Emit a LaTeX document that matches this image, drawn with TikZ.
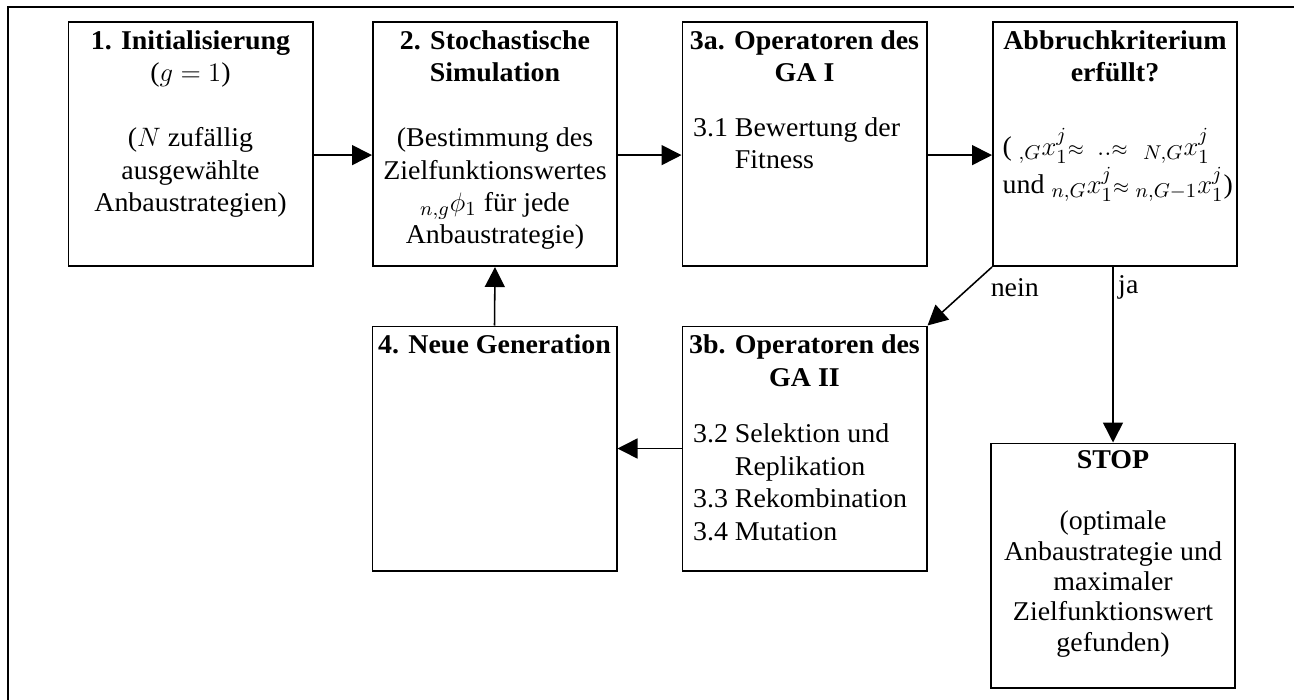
\documentclass[tikz,border=0pt]{standalone}
\usepackage{amsmath}
\usepackage{fontspec}
\setmainfont{Liberation Serif}[FakeStretch=1.03]
\usetikzlibrary{arrows.meta, positioning}

\begin{document}
\begin{tikzpicture}[x=0.45pt, y=-0.45pt, font=\fontsize{12.2}{14.6}\selectfont,
    box/.style={rectangle, draw, line width=0.7pt, minimum width=110pt, minimum height=110pt, inner sep=0pt},
    title/.style={anchor=north, align=center, inner sep=0pt},
    list/.style={anchor=north west, align=left, inner sep=0pt},
    arr/.style={-{Triangle[length=9pt, width=9pt]}, line width=0.7pt}]
    \useasboundingbox (0,0) rectangle (1294,700);
    % Outer frame
    \draw[line width=0.7pt] (1294,7) -- (8,7) -- (8,700);

    % Steps of the algorithm
    \node[box] (init) at (190.5,144) {};
    \node[box] (sim) at (495,144) {};
    \node[box] (gaa) at (804.5,144) {};
    \node[box] (crit) at (1115,144) {};
    \node[box] (newgen) at (494.5,448.5) {};
    \node[box] (gab) at (804.5,448.5) {};
    \node[box] (stop) at (1113,565.5) {};

    % Texts
    \node[title] (initT) at ([yshift=-2.3pt]init.north) {\strut\textbf{1. Initialisierung}\\($g = 1$)\\[14.6pt]($N$ zufällig\\ausgewählte\\Anbaustrategien)};
    \node[title] (simT) at ([yshift=-2.3pt]sim.north) {\strut\textbf{2. Stochastische}\\\textbf{Simulation}\\[14.6pt](Bestimmung des\\Zielfunktionswertes\\${}_{n,g}\phi_1$ für jede\\Anbaustrategie)};
    \node[title] (gaaT) at ([yshift=-2.3pt]gaa.north) {\strut\textbf{3a. Operatoren des}\\\textbf{GA I}};
    \node[list] (gaaL) at ([xshift=5pt, yshift=-41.5pt]gaa.north west) {\strut 3.1 Bewertung der\\\phantom{3.1 }Fitness};
    \node[title] (critT) at ([yshift=-2.3pt]crit.north) {\strut\textbf{Abbruchkriterium}\\\textbf{erfüllt?}};
    \node[list] (critL) at ([xshift=4.6pt, yshift=-48.3pt]crit.north west) {\strut(\hspace{3pt}${}_{,G}x_1^j{\scriptstyle\approx}\hspace{6pt}..{\scriptstyle\approx}\hspace{7pt}{}_{N,G}x_1^j$\\und ${}_{n,G}x_1^j{\scriptstyle\approx}\hspace{3pt}{}_{n,G-1}x_1^j\text{)}$};
    \node[title] (newgenT) at ([yshift=-2.3pt]newgen.north) {\strut\textbf{4. Neue Generation}};
    \node[title] (gabT) at ([yshift=-2.3pt]gab.north) {\strut\textbf{3b. Operatoren des}\\\textbf{GA II}};
    \node[list] (gabL) at ([xshift=5pt, yshift=-42.4pt]gab.north west) {\strut 3.2 Selektion und\\\phantom{3.2 }Replikation\\3.3 Rekombination\\3.4 Mutation};
    \node[title, font=\fontsize{12.2}{13.7}\selectfont] (stopT) at ([yshift=-2pt]stop.north) {\strut\textbf{STOP}\\[13.7pt](optimale\\Anbaustrategie und\\maximaler\\Zielfunktionswert\\gefunden)};

    % Flow
    \draw[arr] ([yshift=-5pt]init.east) -- ([yshift=-5pt]sim.west);
    \draw[arr] ([yshift=-5pt]sim.east) -- ([yshift=-5pt]gaa.west);
    \draw[arr] ([yshift=-5pt]gaa.east) -- ([yshift=-5pt]crit.west);
    \draw[arr] (newgen.north) -- (sim.south);
    \draw[arr] (gab.west) -- (newgen.east);
    \draw[arr] (crit.south west) -- (gab.north east) node[pos=0.1, anchor=north west, inner sep=2pt] {nein};
    \draw[arr] (stop.north |- crit.south) -- (stop.north) node[pos=0.02, anchor=north west, inner sep=2pt] {ja};
\end{tikzpicture}
\end{document}
